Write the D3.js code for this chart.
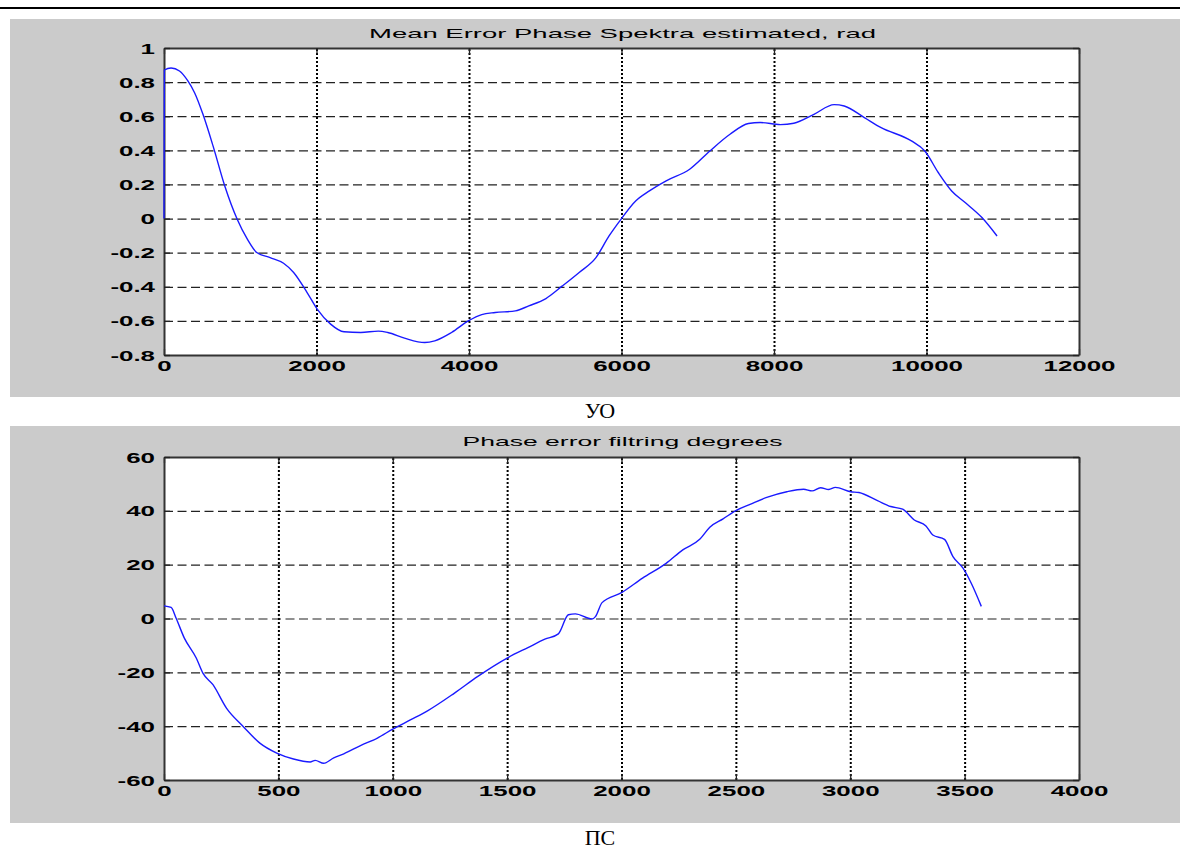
<!DOCTYPE html>
<html>
<head>
<meta charset="utf-8">
<script src="https://cdn.jsdelivr.net/npm/d3@7"></script>
<style>
  html, body { margin: 0; padding: 0; background: #fff; }
  svg { display: block; }
</style>
</head>
<body>
<svg id="fig" width="1180" height="849"></svg>
<script>
// Mean error of the estimated phase spectrum (rad) against sample index
const meanErrX = [0, 5, 93, 203, 313, 401, 511, 643, 797, 960, 1093, 1216, 1392, 1568, 1700, 1877, 2009, 2185, 2361, 2581, 2811, 2934, 3154, 3419, 3551, 3771, 3991, 4167, 4344, 4608, 4784, 5009, 5225, 5445, 5665, 5837, 6000, 6189, 6366, 6586, 6894, 7159, 7423, 7665, 7819, 8084, 8260, 8524, 8789, 8921, 9185, 9405, 9802, 9978, 10154, 10330, 10507, 10727, 10925];
const meanErrY = [0, 0.871, 0.883, 0.865, 0.807, 0.738, 0.611, 0.426, 0.191, -0.004, -0.121, -0.199, -0.229, -0.262, -0.316, -0.434, -0.531, -0.619, -0.664, -0.668, -0.660, -0.668, -0.701, -0.727, -0.717, -0.668, -0.600, -0.563, -0.551, -0.541, -0.512, -0.469, -0.395, -0.316, -0.229, -0.102, 0.0, 0.104, 0.162, 0.221, 0.289, 0.396, 0.494, 0.557, 0.563, 0.551, 0.559, 0.611, 0.668, 0.660, 0.592, 0.533, 0.455, 0.396, 0.270, 0.162, 0.094, 0.006, -0.102];

// Phase error after filtering (degrees) against sample index
const filtErrX = [0, 31, 53, 89, 141, 170, 214, 273, 346, 419, 493, 566, 639, 661, 698, 742, 786, 859, 933, 1000, 1079, 1152, 1270, 1372, 1500, 1591, 1665, 1724, 1768, 1798, 1871, 1886, 1915, 2000, 2092, 2195, 2268, 2342, 2386, 2444, 2500, 2562, 2635, 2723, 2796, 2833, 2870, 2906, 2935, 3001, 3038, 3119, 3177, 3229, 3280, 3331, 3361, 3412, 3449, 3493, 3529, 3573];
const filtErrY = [4.7, 4.1, 0.1, -7.3, -14.7, -20.3, -24.6, -33.3, -40.1, -46.3, -50.0, -52.2, -53.3, -52.7, -53.8, -51.8, -50.3, -47.2, -44.4, -41.1, -37.6, -34.3, -27.7, -21.5, -14.7, -10.8, -7.7, -5.7, 1.4, 1.7, -0.2, 0.7, 5.9, 9.6, 15.0, 20.5, 25.5, 29.4, 33.9, 37.0, 40.1, 42.4, 45.0, 47.1, 48.0, 47.4, 48.6, 47.9, 48.7, 47.1, 46.8, 43.8, 41.6, 40.6, 36.6, 34.4, 31.0, 29.4, 23.0, 18.7, 13.1, 4.5];

// Tick values and labels
const topXTicks = [0, 2000, 4000, 6000, 8000, 10000, 12000];
const topYTicks = [-0.8, -0.6, -0.4, -0.2, 0, 0.2, 0.4, 0.6, 0.8, 1];
const topYLabels = ["-0.8", "-0.6", "-0.4", "-0.2", "0", "0.2", "0.4", "0.6", "0.8", "1"];
const botXTicks = [0, 500, 1000, 1500, 2000, 2500, 3000, 3500, 4000];
const botYTicks = [-60, -40, -20, 0, 20, 40, 60];
const botYLabels = ["-60", "-40", "-20", "0", "20", "40", "60"];

const titles = ["Mean Error Phase Spektra estimated, rad", "Phase error filtring degrees"];
const captions = ["УО", "ПС"];

const svg = d3.select("#fig");
const STRETCH = 1.85;           // wide glyphs of the figure text
const GRAY = "#cbcbcb";
const LINE = "#1a1aff";

// page rule and figure backgrounds
svg.append("rect").attr("width", 1180).attr("height", 849).attr("fill", "#fff");
svg.append("line").attr("x1", 0).attr("x2", 1180).attr("y1", 8).attr("y2", 8)
  .attr("stroke", "#000").attr("stroke-width", 2);
svg.append("rect").attr("x", 10).attr("y", 19).attr("width", 1170).attr("height", 378).attr("fill", GRAY);
svg.append("rect").attr("x", 10).attr("y", 426).attr("width", 1170).attr("height", 397).attr("fill", GRAY);

function panel(cfg) {
  const { left, right, top, bottom, xDomain, yDomain, xTicks, yTicks, yLabels, xs, ys, title, titleY, titleWidth } = cfg;
  const x = d3.scaleLinear().domain(xDomain).range([left, right]);
  const y = d3.scaleLinear().domain(yDomain).range([bottom, top]);
  const g = svg.append("g");

  g.append("rect").attr("x", left).attr("y", top).attr("width", right - left).attr("height", bottom - top).attr("fill", "#fff");

  // grid: dashed horizontals, dotted verticals
  const hGrid = g.append("g").attr("transform", `translate(${left},0)`)
    .call(d3.axisLeft(y).tickValues(yTicks.slice(1, -1)).tickSize(-(right - left)).tickFormat(""));
  hGrid.select(".domain").remove();
  hGrid.selectAll("line").attr("stroke", "#222").attr("stroke-width", 1.2).attr("stroke-dasharray", "9,4.5");

  const vGrid = g.append("g").attr("transform", `translate(0,${bottom})`)
    .call(d3.axisBottom(x).tickValues(xTicks.slice(1, -1)).tickSize(-(bottom - top)).tickFormat(""));
  vGrid.select(".domain").remove();
  vGrid.selectAll("line").attr("stroke", "#000").attr("stroke-width", 2).attr("stroke-dasharray", "2,2");

  // inward ticks on all four sides, labels on bottom and left
  const tk = 6;
  const axB = g.append("g").attr("transform", `translate(0,${bottom})`)
    .call(d3.axisBottom(x).tickValues(xTicks).tickSize(-tk).tickSizeOuter(0).tickFormat(d => String(d)));
  const axT = g.append("g").attr("transform", `translate(0,${top})`)
    .call(d3.axisTop(x).tickValues(xTicks).tickSize(-tk).tickSizeOuter(0).tickFormat(""));
  const axL = g.append("g").attr("transform", `translate(${left},0)`)
    .call(d3.axisLeft(y).tickValues(yTicks).tickSize(-tk).tickSizeOuter(0).tickFormat((d, i) => yLabels[i]));
  const axR = g.append("g").attr("transform", `translate(${right},0)`)
    .call(d3.axisRight(y).tickValues(yTicks).tickSize(-tk).tickSizeOuter(0).tickFormat(""));

  [axB, axT, axL, axR].forEach(a => {
    a.select(".domain").attr("stroke", "#333").attr("stroke-width", 2);
    a.selectAll(".tick line").attr("stroke", "#222").attr("stroke-width", 1.3);
  });

  axB.selectAll("text")
    .attr("font-family", "Liberation Sans, Arial, sans-serif").attr("font-weight", "bold")
    .attr("font-size", 14).attr("fill", "#000")
    .attr("y", 6).attr("dy", "0.71em")
    .attr("transform", `scale(${STRETCH},1)`);
  axL.selectAll("text")
    .attr("font-family", "Liberation Sans, Arial, sans-serif").attr("font-weight", "bold")
    .attr("font-size", 14).attr("fill", "#000")
    .attr("x", -9 / STRETCH).attr("dy", "0.36em")
    .attr("transform", `scale(${STRETCH},1)`);

  // data line, drawn over the axes
  const pts = xs.map((v, i) => [v, ys[i]]);
  g.append("path").datum(pts)
    .attr("d", d3.line().x(d => x(d[0])).y(d => y(d[1])).curve(d3.curveMonotoneX))
    .attr("fill", "none").attr("stroke", LINE).attr("stroke-width", 1.4);

  g.append("text").text(title)
    .attr("x", (left + right) / 2 + 1).attr("y", titleY)
    .attr("text-anchor", "middle")
    .attr("font-family", "Liberation Sans, Arial, sans-serif").attr("font-size", 13.5)
    .attr("textLength", titleWidth).attr("lengthAdjust", "spacingAndGlyphs")
    .attr("fill", "#000");
}

panel({
  left: 164, right: 1079, top: 48, bottom: 355,
  xDomain: [0, 12000], yDomain: [-0.8, 1],
  xTicks: topXTicks, yTicks: topYTicks, yLabels: topYLabels,
  xs: meanErrX, ys: meanErrY,
  title: titles[0], titleY: 38, titleWidth: 507
});

panel({
  left: 164, right: 1079, top: 457, bottom: 780,
  xDomain: [0, 4000], yDomain: [-60, 60],
  xTicks: botXTicks, yTicks: botYTicks, yLabels: botYLabels,
  xs: filtErrX, ys: filtErrY,
  title: titles[1], titleY: 446, titleWidth: 320
});

// captions under each figure
svg.selectAll("text.caption").data([[600, 418], [600, 845]])
  .enter().append("text").attr("class", "caption")
  .attr("x", d => d[0]).attr("y", d => d[1])
  .attr("text-anchor", "middle")
  .attr("font-family", "Liberation Serif, Times New Roman, serif")
  .attr("font-size", 22).attr("fill", "#000")
  .text((d, i) => captions[i]);
</script>
</body>
</html>
